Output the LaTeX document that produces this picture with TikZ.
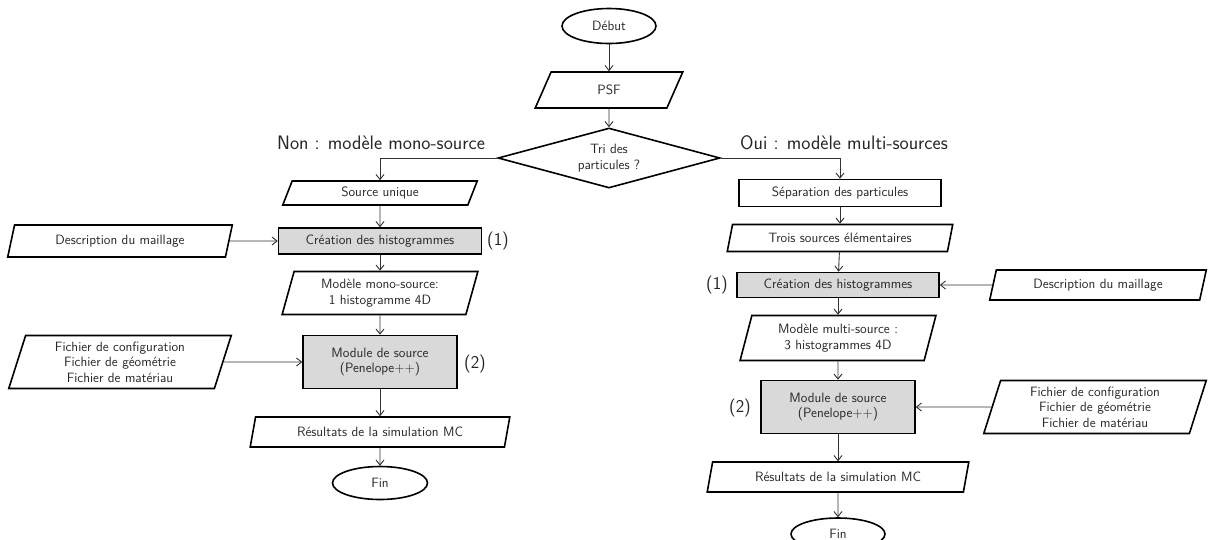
\documentclass[tikz,border=0pt]{standalone}
\usetikzlibrary{shapes.geometric,arrows.meta}

\begin{document}
\begin{tikzpicture}[x=1pt, y=-1pt, >={Straight Barb[length=5pt,width=8pt]},
  font=\sffamily\fontsize{13.5}{15.5}\selectfont,
  every node/.style={text=black!85},
  boite/.style={draw=black, line width=1.6pt, inner sep=2pt},
  donnee/.style={boite, trapezium, trapezium left angle=75, trapezium right angle=105,
    trapezium stretches=true, align=center},
  calcul/.style={boite, rectangle, fill=black!15, align=center},
  terme/.style={boite, ellipse, inner sep=0pt},
  fleche/.style={->, draw=black!80, line width=0.9pt},
  branche/.style={font=\sffamily\fontsize{19.5}{22}\selectfont},
  numero/.style={font=\sffamily\fontsize{18}{20}\selectfont}]

  \useasboundingbox (0,0) rectangle (1208,539);

  % Debut
  \node[terme, minimum width=94, minimum height=35] (debut) at (609,26) {Début};
  \node[donnee, minimum width=148, minimum height=36] (psf) at (609,90) {PSF};
  \node[boite, diamond, aspect=3.7, minimum width=222, minimum height=60, inner sep=0pt,
    align=center] (tri) at (609,158) {Tri des\\particules ?};

  \draw[fleche] (debut) -- (psf);
  \draw[fleche] (psf) -- (tri);

  % Branche mono-source
  \node[branche] (nonlbl) at (381,143) {Non : modèle mono-source};
  \node[donnee, minimum width=196, minimum height=24] (unique) at (380,193) {Source unique};
  \node[calcul, minimum width=203, minimum height=26] (creaA) at (380,241) {Création des histogrammes};
  \node[numero] (numA1) at (498,241) {(1)};
  \node[donnee, minimum width=225, minimum height=32] (descA) at (120,241) {Description du maillage};
  \node[donnee, minimum width=196, minimum height=43] (modA) at (380,293)
    {Modèle mono-source:\\1 histogramme 4D};
  \node[calcul, minimum width=154, minimum height=53] (moduleA) at (380,362)
    {Module de source\\(Penelope++)};
  \node[numero] (numA2) at (475,364) {(2)};
  \node[donnee, minimum width=223, minimum height=53] (fichA) at (120,362)
    {Fichier de configuration\\Fichier de géométrie\\Fichier de matériau};
  \node[donnee, minimum width=260, minimum height=30] (resA) at (380,432)
    {Résultats de la simulation MC};
  \node[terme, minimum width=95, minimum height=33] (finA) at (380,483) {Fin};

  \draw[fleche] (tri.west) -| (unique);
  \draw[fleche] (unique) -- (creaA);
  \draw[fleche] (descA) -- (creaA);
  \draw[fleche] (creaA) -- (modA);
  \draw[fleche] (modA) -- (moduleA);
  \draw[fleche] (fichA) -- (moduleA);
  \draw[fleche] (moduleA) -- (resA);
  \draw[fleche] (resA) -- (finA);

  % Branche multi-sources
  \node[branche] (ouilbl) at (844,143) {Oui : modèle multi-sources};
  \node[boite, rectangle, minimum width=202, minimum height=27] (separ) at (840,193)
    {Séparation des particules};
  \node[donnee, minimum width=226, minimum height=27] (trois) at (840,238)
    {Trois sources élémentaires};
  \node[calcul, minimum width=202, minimum height=25] (creaB) at (838,285) {Création des histogrammes};
  \node[numero] (numB1) at (717,285) {(1)};
  \node[donnee, minimum width=217, minimum height=30] (descB) at (1098,285) {Description du maillage};
  \node[donnee, minimum width=196, minimum height=45] (modB) at (838,338)
    {Modèle multi-source :\\3 histogrammes 4D};
  \node[calcul, minimum width=154, minimum height=53] (moduleB) at (838,407)
    {Module de source\\(Penelope++)};
  \node[numero] (numB2) at (740,408) {(2)};
  \node[donnee, minimum width=223, minimum height=53] (fichB) at (1095,407)
    {Fichier de configuration\\Fichier de géométrie\\Fichier de matériau};
  \node[donnee, minimum width=262, minimum height=30] (resB) at (838,477)
    {Résultats de la simulation MC};
  \node[terme, minimum width=94, minimum height=32] (finB) at (838,534) {Fin};

  \draw[fleche] (tri.east) -| (separ);
  \draw[fleche] (separ) -- (trois);
  \draw[fleche] (trois) -- (creaB);
  \draw[fleche] (descB) -- (creaB);
  \draw[fleche] (creaB) -- (modB);
  \draw[fleche] (modB) -- (moduleB);
  \draw[fleche] (fichB) -- (moduleB);
  \draw[fleche] (moduleB) -- (resB);
  \draw[fleche] (resB) -- (finB);

\end{tikzpicture}
\end{document}
